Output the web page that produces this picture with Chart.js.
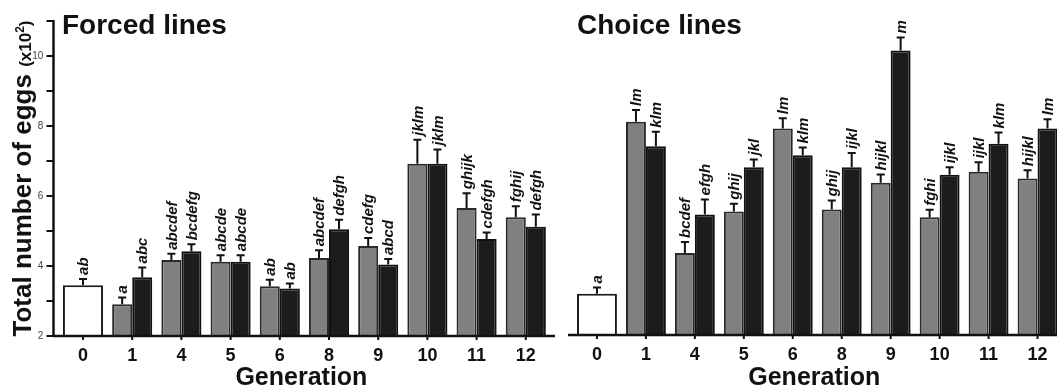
<!DOCTYPE html>
<html>
<head>
<meta charset="utf-8">
<script src="https://cdn.jsdelivr.net/npm/chart.js@4.4.1/dist/chart.umd.min.js"></script>
<style>
  html, body { margin: 0; padding: 0; background: #fff; overflow: hidden; }
  #wrap { position: relative; width: 1057px; height: 390px; overflow: hidden; }
  #forcedBox { position: absolute; left: 0; top: 0; width: 560px; height: 390px; }
  #choiceBox { position: absolute; left: 560px; top: 0; width: 510px; height: 390px; }
</style>
</head>
<body>
<div id="wrap">
  <div id="forcedBox"><canvas id="forcedChart" width="560" height="390"></canvas></div>
  <div id="choiceBox"><canvas id="choiceChart" width="510" height="390"></canvas></div>
</div>
<script>
// ---- datos (x10^2 huevos) ----
const generations = ['0', '1', '4', '5', '6', '8', '9', '10', '11', '12'];

// Forced lines
const forcedBase = [3.45, null, null, null, null, null, null, null, null, null];
const forcedBaseErr = [3.63, null, null, null, null, null, null, null, null, null];
const forcedBaseLetters = ['ab', '', '', '', '', '', '', '', '', ''];
const forcedGray = [null, 2.91, 4.17, 4.12, 3.42, 4.23, 4.57, 6.92, 5.66, 5.39];
const forcedGrayErr = [null, 3.10, 4.35, 4.31, 3.61, 4.45, 4.80, 7.61, 6.08, 5.71];
const forcedGrayLetters = ['', 'a', 'abcdef', 'abcde', 'ab', 'abcdef', 'cdefg', 'jklm', 'ghijk', 'fghij'];
const forcedBlack = [null, 3.68, 4.42, 4.12, 3.36, 5.05, 4.04, 6.92, 4.77, 5.12];
const forcedBlackErr = [null, 3.96, 4.62, 4.31, 3.50, 5.32, 4.20, 7.33, 4.96, 5.47];
const forcedBlackLetters = ['', 'abc', 'bcdefg', 'abcde', 'ab', 'defgh', 'abcd', 'jklm', 'cdefgh', 'defgh'];

// Choice lines
const choiceBase = [3.16, null, null, null, null, null, null, null, null, null];
const choiceBaseErr = [3.33, null, null, null, null, null, null, null, null, null];
const choiceBaseLetters = ['a', '', '', '', '', '', '', '', '', ''];
const choiceGray = [null, 7.98, 4.30, 5.46, 7.79, 5.52, 6.27, 5.30, 6.58, 6.39];
const choiceGrayErr = [null, 8.31, 4.61, 5.68, 8.08, 5.77, 6.50, 5.51, 6.84, 6.62];
const choiceGrayLetters = ['', 'lm', 'bcdef', 'ghij', 'lm', 'ghij', 'hijkl', 'fghi', 'ijkl', 'hijkl'];
const choiceBlack = [null, 7.29, 5.38, 6.70, 7.04, 6.70, 9.98, 6.49, 7.36, 7.79];
const choiceBlackErr = [null, 7.70, 5.80, 6.92, 7.26, 7.10, 10.34, 6.70, 7.68, 8.05];
const choiceBlackLetters = ['', 'klm', 'efgh', 'jkl', 'klm', 'ijkl', 'm', 'ijkl', 'klm', 'lm'];

const yTicks = [2, 3, 4, 5, 6, 7, 8, 9, 10, 11];
const yLabelled = [2, 4, 6, 8, 10];

const FONT = '"Liberation Sans", Arial, Helvetica, sans-serif';
const INK = '#111';

// --- plugin: barras de error, letras, ejes y titulos ---
const extras = {
  id: 'extras',
  afterDatasetsDraw(chart, args, opts) {
    const { ctx, chartArea, scales: { x, y } } = chart;
    ctx.save();

    // barras de error + letras
    chart.data.datasets.forEach((ds, di) => {
      const meta = chart.getDatasetMeta(di);
      meta.data.forEach((bar, i) => {
        if (ds.data[i] == null) return;
        const top = y.getPixelForValue(ds.errTop[i]);
        ctx.strokeStyle = INK;
        ctx.lineWidth = 2;
        ctx.beginPath();
        ctx.moveTo(bar.x, bar.y);
        ctx.lineTo(bar.x, top);
        ctx.moveTo(bar.x - 4, top);
        ctx.lineTo(bar.x + 4, top);
        ctx.stroke();

        ctx.save();
        ctx.translate(bar.x + 1, top - 4);
        ctx.rotate(-Math.PI / 2);
        ctx.font = 'italic bold 15px ' + FONT;
        ctx.textAlign = 'left';
        ctx.textBaseline = 'middle';
        ctx.fillStyle = INK;
        ctx.fillText(ds.letters[i], 0, 0);
        ctx.restore();
      });
    });

    // eje x
    const bottom = chartArea.bottom;
    ctx.strokeStyle = INK;
    ctx.lineWidth = 2.5;
    ctx.beginPath();
    ctx.moveTo(opts.axisFrom, bottom);
    ctx.lineTo(opts.axisTo, bottom);
    ctx.stroke();
    ctx.lineWidth = 2;
    ctx.beginPath();
    generations.forEach((g, i) => {
      const px = x.getPixelForValue(i);
      ctx.moveTo(px, bottom);
      ctx.lineTo(px, bottom + 4);
    });
    ctx.stroke();

    // eje y (solo panel izquierdo)
    if (opts.yAxisX != null) {
      const ax = opts.yAxisX;
      ctx.lineWidth = 2.5;
      ctx.beginPath();
      ctx.moveTo(ax, y.getPixelForValue(11) - 1);
      ctx.lineTo(ax, bottom);
      ctx.stroke();
      ctx.lineWidth = 2;
      ctx.beginPath();
      yTicks.forEach(v => {
        const py = y.getPixelForValue(v);
        ctx.moveTo(ax - 7, py);
        ctx.lineTo(ax, py);
      });
      ctx.stroke();

      // titulo eje y
      const main = 'Total number of eggs ';
      const small = '(x10';
      const sup = '2';
      const close = ')';
      ctx.font = 'bold 26px ' + FONT;
      const wMain = ctx.measureText(main).width;
      ctx.font = 'bold 17px ' + FONT;
      const wSmall = ctx.measureText(small).width;
      const wClose = ctx.measureText(close).width;
      ctx.font = 'bold 12px ' + FONT;
      const wSup = ctx.measureText(sup).width;
      const total = wMain + wSmall + wSup + wClose;
      const cy = (chartArea.top + bottom) / 2;
      ctx.save();
      ctx.translate(31, cy);
      ctx.rotate(-Math.PI / 2);
      ctx.fillStyle = INK;
      ctx.textAlign = 'left';
      ctx.textBaseline = 'alphabetic';
      let cx = -total / 2;
      ctx.font = 'bold 26px ' + FONT;
      ctx.fillText(main, cx, 0);
      cx += wMain;
      ctx.font = 'bold 17px ' + FONT;
      ctx.fillText(small, cx, 0);
      cx += wSmall;
      ctx.font = 'bold 12px ' + FONT;
      ctx.fillText(sup, cx, -7);
      cx += wSup;
      ctx.font = 'bold 17px ' + FONT;
      ctx.fillText(close, cx, 0);
      ctx.restore();
    }

    // titulo del panel
    ctx.fillStyle = INK;
    ctx.font = 'bold 28px ' + FONT;
    ctx.textAlign = 'left';
    ctx.textBaseline = 'alphabetic';
    ctx.fillText(opts.title, opts.titleX, 34);

    // titulo eje x
    ctx.font = 'bold 25px ' + FONT;
    ctx.textAlign = 'center';
    ctx.fillText('Generation', (chartArea.left + chartArea.right) / 2 - 3, 385);

    ctx.restore();
  }
};

function makeDatasets(base, baseErr, baseLet, gray, grayErr, grayLet, black, blackErr, blackLet) {
  return [
    { data: base, errTop: baseErr, letters: baseLet, backgroundColor: '#ffffff', borderColor: '#1a1a1a' },
    { data: gray, errTop: grayErr, letters: grayLet, backgroundColor: '#808080', borderColor: '#2a2a2a' },
    { data: black, errTop: blackErr, letters: blackLet, backgroundColor: '#1c1c1c', borderColor: '#111111' }
  ].map(d => Object.assign(d, {
    borderWidth: { top: 2, left: 2, right: 2, bottom: 0 },
    borderSkipped: 'bottom',
    categoryPercentage: 0.815,
    barPercentage: 1.0,
    skipNull: true
  }));
}

function makeChart(canvasId, datasets, cfg) {
  return new Chart(document.getElementById(canvasId), {
    type: 'bar',
    data: { labels: generations, datasets: datasets },
    options: {
      responsive: false,
      animation: false,
      events: [],
      layout: { padding: { top: 14, right: cfg.padRight, left: cfg.padLeft, bottom: 0 } },
      plugins: {
        legend: { display: false },
        tooltip: { enabled: false },
        extras: cfg.extras
      },
      scales: {
        x: {
          grid: { display: false, drawTicks: false },
          border: { display: false },
          ticks: { color: INK, font: { family: FONT, size: 18, weight: 'bold' }, padding: 9, maxRotation: 0, autoSkip: false },
          afterFit: s => { s.height = cfg.xHeight; }
        },
        y: {
          display: cfg.showY,
          min: 2,
          max: 11,
          grid: { display: false, drawTicks: false },
          border: { display: false },
          ticks: {
            stepSize: 1,
            padding: 15,
            color: '#444',
            font: { family: FONT, size: 10 },
            callback: v => yLabelled.includes(v) ? String(v) : ''
          },
          afterFit: s => { s.width = cfg.yWidth; }
        }
      }
    },
    plugins: [extras]
  });
}

makeChart('forcedChart',
  makeDatasets(forcedBase, forcedBaseErr, forcedBaseLetters, forcedGray, forcedGrayErr, forcedGrayLetters, forcedBlack, forcedBlackErr, forcedBlackLetters),
  { padLeft: 0, padRight: 9.6, yWidth: 58.4, showY: true, xHeight: 54,
    extras: { title: 'Forced lines', titleX: 62, axisFrom: 53, axisTo: 555, yAxisX: 53.5 } });

makeChart('choiceChart',
  makeDatasets(choiceBase, choiceBaseErr, choiceBaseLetters, choiceGray, choiceGrayErr, choiceGrayLetters, choiceBlack, choiceBlackErr, choiceBlackLetters),
  { padLeft: 12.5, padRight: 8, yWidth: 0, showY: false, xHeight: 55,
    extras: { title: 'Choice lines', titleX: 17, axisFrom: 8, axisTo: 510, yAxisX: null } });
</script>
</body>
</html>
